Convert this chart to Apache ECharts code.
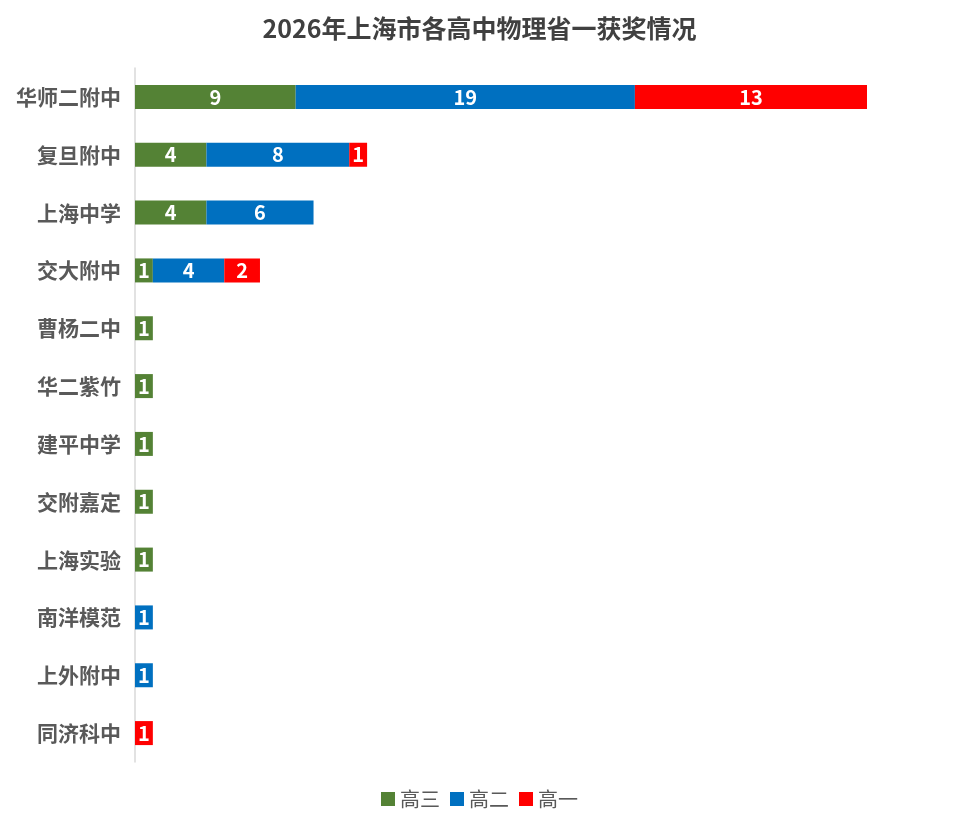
<!DOCTYPE html>
<html>
<head>
<meta charset="utf-8">
<script src="https://cdn.jsdelivr.net/npm/echarts@6/dist/echarts.min.js"></script>
<style>
html, body { margin: 0; padding: 0; background: #fff; }
#main { width: 959px; height: 833px; }
</style>
</head>
<body>
<div id="main"></div>
<script>
var schools = ['华师二附中', '复旦附中', '上海中学', '交大附中', '曹杨二中', '华二紫竹',
    '建平中学', '交附嘉定', '上海实验', '南洋模范', '上外附中', '同济科中'];
var grades = ['高三', '高二', '高一'];
var senior3 = [9, 4, 4, 1, 1, 1, 1, 1, 1, 0, 0, 0];
var senior2 = [19, 8, 6, 4, 0, 0, 0, 0, 0, 1, 1, 0];
var senior1 = [13, 1, 0, 2, 0, 0, 0, 0, 0, 0, 0, 1];
var colors = ['#548235', '#0070C0', '#FF0000'];

var font = '"Noto Sans CJK SC", "Open Sans", sans-serif';

// zero values become '-' so they draw nothing and get no label
function clean(arr) {
    return arr.map(function (v) { return v === 0 ? '-' : v; });
}

var option = {
    title: {
        text: '2026年上海市各高中物理省一获奖情况',
        left: 'center',
        top: 11,
        textStyle: {
            fontFamily: font,
            fontSize: 25,
            fontWeight: 'bold',
            color: '#404040'
        }
    },
    legend: {
        data: grades,
        bottom: 19,
        left: 'center',
        itemWidth: 14,
        itemHeight: 14,
        itemGap: 10,
        icon: 'rect',
        textStyle: {
            fontFamily: font,
            fontSize: 20,
            color: '#595959'
        }
    },
    grid: {
        left: 135,
        right: 92,
        top: 68,
        bottom: 71,
        containLabel: false
    },
    xAxis: {
        type: 'value',
        min: 0,
        max: 41,
        show: false
    },
    yAxis: {
        type: 'category',
        inverse: true,
        data: schools,
        axisLine: { show: true, lineStyle: { color: '#d9d9d9', width: 1.5 } },
        axisTick: { show: false },
        axisLabel: {
            margin: 14,
            fontFamily: font,
            fontSize: 21,
            fontWeight: 'bold',
            color: '#595959'
        }
    },
    series: []
};

var values = [senior3, senior2, senior1];
for (var i = 0; i < grades.length; i++) {
    option.series.push({
        name: grades[i],
        type: 'bar',
        stack: 'total',
        barWidth: 24,
        itemStyle: { color: colors[i] },
        label: {
            show: true,
            position: 'inside',
            fontFamily: font,
            fontSize: 20,
            fontWeight: 'bold',
            color: '#fff'
        },
        data: clean(values[i])
    });
}

var chart = echarts.init(document.getElementById('main'));
chart.setOption(option);
</script>
</body>
</html>
